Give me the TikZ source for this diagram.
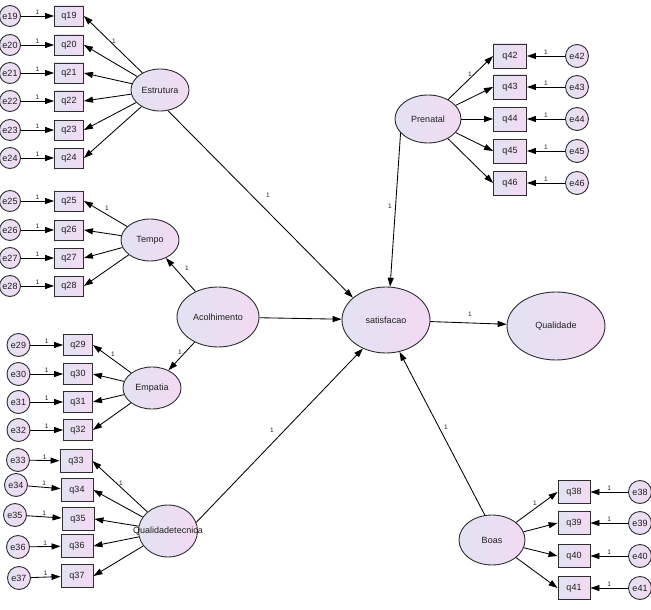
\documentclass[tikz,border=0pt]{standalone}
\usepackage{fontspec}
\setmainfont{Liberation Sans}
\usetikzlibrary{shapes.geometric,arrows.meta}
\definecolor{shL}{HTML}{E2E2F2}
\definecolor{shR}{HTML}{F3DAF3}
\definecolor{ln}{HTML}{2E2E2E}
\definecolor{tx}{HTML}{1E1E1E}
\tikzset{
 lat/.style={ellipse, draw=ln, line width=0.9pt, left color=shL, right color=shR, inner sep=0pt,
   label={[font=\fontsize{9}{10}\selectfont, text=tx]center:#1}},
 obs/.style={rectangle, draw=ln, line width=0.9pt, left color=shL, right color=shR,
   minimum width=29pt, minimum height=20pt, inner sep=0pt, font=\fontsize{9}{10}\selectfont, text=tx},
 obsL/.style={obs, minimum width=32pt, minimum height=23pt},
 err/.style={circle, draw=ln, line width=0.9pt, left color=shL, right color=shR,
   minimum size=21pt, inner sep=0pt, font=\fontsize{9}{10}\selectfont, text=tx},
 errL/.style={err, minimum size=23pt},
 arr/.style={-{Triangle[length=9pt,width=6pt]}, line width=0.85pt, black},
 one/.style={font=\fontsize{6.5}{7}\selectfont, inner sep=1pt, text=tx},
}
\begin{document}
\begin{tikzpicture}[x=1pt,y=-1pt]
\useasboundingbox (0,0) rectangle (651,610);
% latent variables
\node[lat=Estrutura, minimum width=58pt, minimum height=42pt] (Estr) at (160,90) {};
\node[lat=Tempo, minimum width=58pt, minimum height=42pt] (Temp) at (150,240) {};
\node[lat=Empatia, minimum width=58pt, minimum height=42pt] (Emp) at (152,388) {};
\node[lat=Qualidadetecnica, minimum width=59pt, minimum height=52pt] (QT) at (168,531) {};
\node[lat=Acolhimento, minimum width=82pt, minimum height=60pt] (Acol) at (218,317) {};
\node[lat=satisfacao, minimum width=88pt, minimum height=66pt] (sat) at (386,320) {};
\node[lat=Qualidade, minimum width=98pt, minimum height=68pt] (Qual) at (556,326) {};
\node[lat=Prenatal, minimum width=66pt, minimum height=48pt] (Pren) at (428,119) {};
\node[lat=Boas, minimum width=66pt, minimum height=50pt] (Boas) at (492,540) {};
% Estrutura group
\foreach \n/\y in {19/16,20/45,21/73,22/101,23/130,24/158} {
  \node[err] (e\n) at (10,\y) {e\n};
  \node[obs] (q\n) at (69,\y) {q\n};
  \draw[arr] (e\n) -- node[one,above]{1} (q\n);
  \draw[arr] (Estr) -- (q\n.east);
}
% Tempo group
\foreach \n/\y in {25/201,26/230,27/258,28/286} {
  \node[err] (e\n) at (10,\y) {e\n};
  \node[obs] (q\n) at (69,\y) {q\n};
  \draw[arr] (e\n) -- node[one,above]{1} (q\n);
  \draw[arr] (Temp) -- (q\n.east);
}
% Empatia group
\foreach \n/\y in {29/345,30/374,31/402,32/430} {
  \node[errL] (e\n) at (18.5,\y) {e\n};
  \node[obs, minimum height=21pt] (q\n) at (78,\y) {q\n};
  \draw[arr] (e\n) -- node[one,above]{1} (q\n);
  \draw[arr] (Emp) -- (q\n.east);
}
% Qualidadetecnica group
\foreach \n/\ex/\ey/\qx/\qy in {33/18/460/76/461,34/16/485/77/490,35/15/515/78/519,36/18/547/77/546,37/19/578/77/576} {
  \node[errL] (e\n) at (\ex,\ey) {e\n};
  \node[obsL] (q\n) at (\qx,\qy) {q\n};
  \draw[arr] (e\n) -- node[one,above]{1} (q\n);
  \draw[arr] (QT) -- (q\n.east);
}
% Prenatal group
\foreach \n/\y in {42/56,43/87,44/119,45/151,46/183} {
  \node[errL] (e\n) at (577,\y) {e\n};
  \node[obs, minimum width=33pt, minimum height=24pt] (q\n) at (510,\y) {q\n};
  \draw[arr] (e\n) -- node[one,above]{1} (q\n);
  \draw[arr] (Pren) -- (q\n.west);
}
% Boas group
\foreach \n/\y in {38/492,39/523,40/556,41/588} {
  \node[errL] (e\n) at (640,\y) {e\n};
  \node[obsL] (q\n) at (574,\y) {q\n};
  \draw[arr] (e\n) -- node[one,above]{1} (q\n);
  \draw[arr] (Boas) -- (q\n.west);
}
% structural paths
\draw[arr] (Acol) -- (Temp);
\draw[arr] (Acol) -- (Emp);
\draw[arr] (Acol) -- (sat);
\draw[arr] (Estr.291) -- (sat.146);
\draw[arr] (Pren.207) -- (sat.83);
\draw[arr] (QT.17) -- (sat.231);
\draw[arr] (Boas.106) -- (sat.293);
\draw[arr] (sat) -- (Qual);
% loading labels
\node[one] (l1) at (114,41) {1};
\node[one] (l2) at (107,208) {1};
\node[one] (l3) at (187,268) {1};
\node[one] (l4) at (113,354) {1};
\node[one] (l5) at (180,352) {1};
\node[one] (l6) at (121,483) {1};
\node[one] (l7) at (268,195) {1};
\node[one] (l8) at (390,206) {1};
\node[one] (l9) at (470,74) {1};
\node[one] (l10) at (470,314) {1};
\node[one] (l11) at (272,430) {1};
\node[one] (l12) at (446,427) {1};
\node[one] (l13) at (535,503) {1};
\end{tikzpicture}
\end{document}
